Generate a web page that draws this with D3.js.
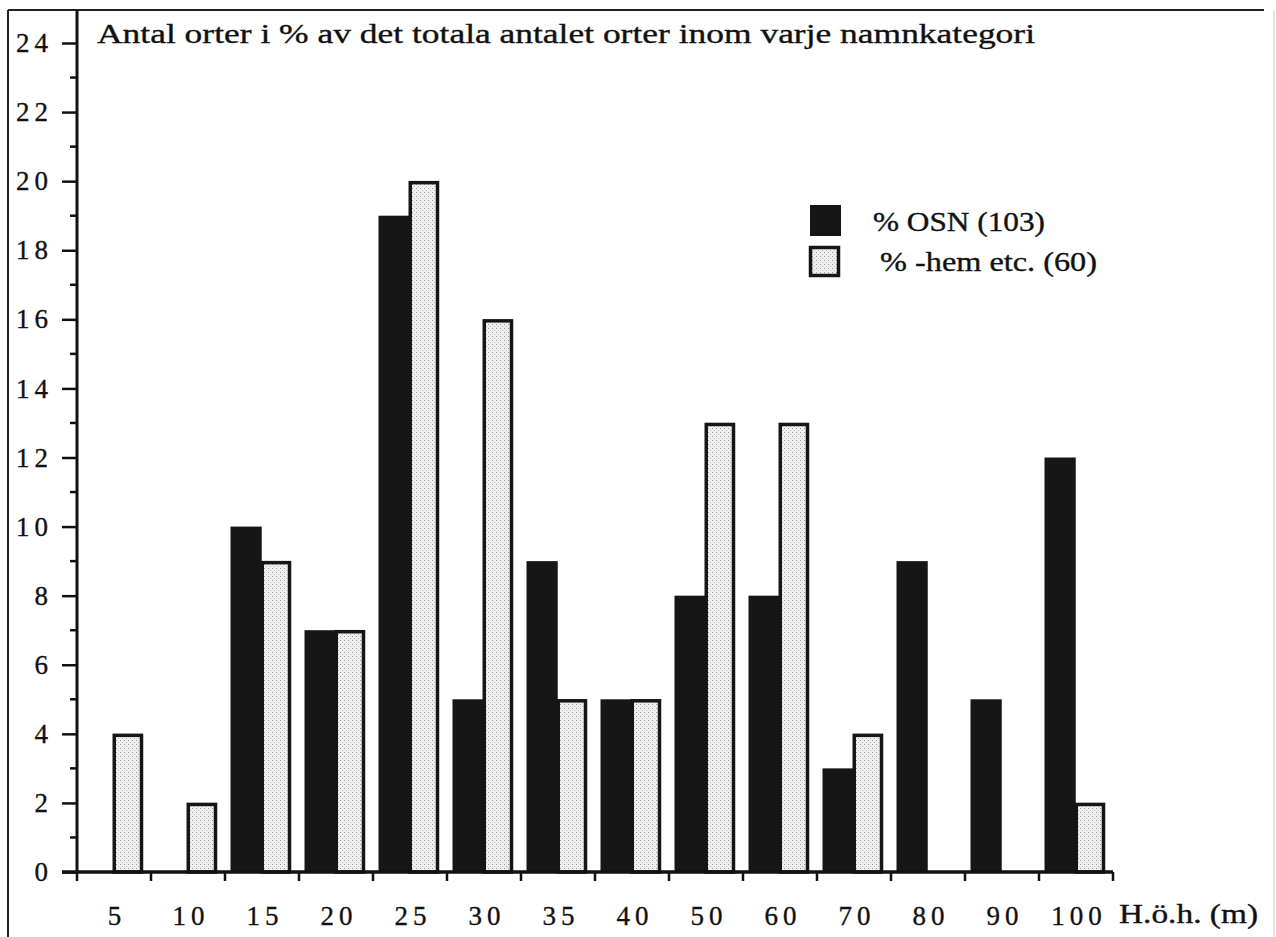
<!DOCTYPE html>
<html>
<head>
<meta charset="utf-8">
<script src="https://cdn.jsdelivr.net/npm/d3@7"></script>
<style>
  html, body { margin: 0; padding: 0; background: #fff; }
  svg { display: block; }
  text { font-family: "Liberation Serif", "DejaVu Serif", serif; fill: #111; stroke: #111; stroke-width: 0.35; }
</style>
</head>
<body>
<svg id="chart" width="1276" height="937"></svg>
<script>
// ---- data ----
const categories = ["5", "10", "15", "20", "25", "30", "35", "40", "50", "60", "70", "80", "90", "100"];
const osnValues  = [0, 0, 10, 7, 19, 5, 9, 5, 8, 8, 3, 9, 5, 12];
const hemValues  = [4, 2, 9, 7, 20, 16, 5, 5, 13, 13, 4, 0, 0, 2];
const seriesNames = ["% OSN (103)", "% -hem etc. (60)"];
const yTickValues = [0, 2, 4, 6, 8, 10, 12, 14, 16, 18, 20, 22, 24];
const titleText = "Antal orter i % av det totala antalet orter inom varje namnkategori";
const xAxisLabel = "H.ö.h. (m)";

const svg = d3.select("#chart");

// pattern for stippled gray bars
const defs = svg.append("defs");
const pat = defs.append("pattern").attr("id", "stipple")
  .attr("patternUnits", "userSpaceOnUse").attr("width", 4).attr("height", 4);
pat.append("rect").attr("width", 4).attr("height", 4).attr("fill", "#efefef");
pat.append("rect").attr("x", 0).attr("y", 0).attr("width", 1).attr("height", 1).attr("fill", "#999");
pat.append("rect").attr("x", 2).attr("y", 2).attr("width", 1).attr("height", 1).attr("fill", "#bbb");

// frame
svg.append("line").attr("x1", 8).attr("y1", 10).attr("x2", 8).attr("y2", 937)
  .attr("stroke", "#222").attr("stroke-width", 2);
svg.append("line").attr("x1", 8).attr("y1", 10).attr("x2", 1264).attr("y2", 10)
  .attr("stroke", "#222").attr("stroke-width", 2);
svg.append("line").attr("x1", 1274).attr("y1", 10).attr("x2", 1274).attr("y2", 937)
  .attr("stroke", "#ccc").attr("stroke-width", 1);

// scales
const x = d3.scaleBand().domain(categories).range([77, 1113]).paddingInner(0).paddingOuter(0);
const xSub = d3.scaleBand().domain(["osn", "hem"]).range([5.5, 66]);
const y = d3.scaleLinear().domain([0, 24]).range([872, 43]);

// y axis: major ticks
const yAxis = d3.axisLeft(y).tickValues(yTickValues).tickSize(15).tickPadding(14).tickFormat(d => d);
const gy = svg.append("g").attr("transform", "translate(77,0)").call(yAxis);
gy.select(".domain").attr("stroke", "#111").attr("stroke-width", 3).attr("d", `M0,10V${y(0)}`);
gy.selectAll(".tick line").attr("stroke", "#111").attr("stroke-width", 2.5);
gy.selectAll(".tick text").attr("font-size", 27).attr("letter-spacing", 5)
  .attr("font-family", "Liberation Serif").attr("fill", "#111").attr("dx", 5);
// minor ticks
const minorVals = d3.range(1, 24, 2);
svg.append("g").selectAll("line").data(minorVals).join("line")
  .attr("x1", 70).attr("x2", 77).attr("y1", d => y(d)).attr("y2", d => y(d))
  .attr("stroke", "#111").attr("stroke-width", 2.5);

// bars: OSN (black)
const bars = svg.append("g");
bars.selectAll("rect.osn").data(categories.map((c, i) => ({c, v: osnValues[i]})).filter(d => d.v > 0))
  .join("rect").attr("class", "osn")
  .attr("x", d => x(d.c) + xSub("osn"))
  .attr("width", xSub.bandwidth() + 1)
  .attr("y", d => y(d.v))
  .attr("height", d => y(0) - y(d.v))
  .attr("fill", "#161616");
// bars: hem (stippled gray, black border)
bars.selectAll("rect.hem").data(categories.map((c, i) => ({c, v: hemValues[i]})).filter(d => d.v > 0))
  .join("rect").attr("class", "hem")
  .attr("x", d => x(d.c) + xSub("hem") + 1.5)
  .attr("width", xSub.bandwidth() - 3)
  .attr("y", d => y(d.v) + 1.5)
  .attr("height", d => y(0) - y(d.v) - 1.5)
  .attr("fill", "url(#stipple)")
  .attr("stroke", "#161616").attr("stroke-width", 3.5);

// x axis
const boundaries = categories.map(c => x(c)).concat([x.range()[1]]);
svg.append("line").attr("x1", 62).attr("x2", 1113).attr("y1", y(0)).attr("y2", y(0))
  .attr("stroke", "#111").attr("stroke-width", 3.5);
svg.append("g").selectAll("line").data(boundaries).join("line")
  .attr("x1", d => d).attr("x2", d => d).attr("y1", y(0)).attr("y2", y(0) + 9)
  .attr("stroke", "#111").attr("stroke-width", 2.5);
svg.append("g").selectAll("text").data(categories).join("text")
  .attr("x", d => x(d) + x.bandwidth() / 2 + 3)
  .attr("y", 925)
  .attr("text-anchor", "middle")
  .attr("font-size", 27).attr("letter-spacing", 5)
  .text(d => d);
svg.append("text").attr("x", 1119).attr("y", 923).attr("font-size", 27)
  .attr("textLength", 139).attr("lengthAdjust", "spacingAndGlyphs").text(xAxisLabel);

// title
svg.append("text").attr("x", 97).attr("y", 43).attr("font-size", 28)
  .attr("textLength", 938).attr("lengthAdjust", "spacingAndGlyphs").text(titleText);

// legend
const legend = svg.append("g");
legend.append("rect").attr("x", 810).attr("y", 205).attr("width", 31).attr("height", 31).attr("fill", "#161616");
legend.append("rect").attr("x", 810.5).attr("y", 247.5).attr("width", 28).attr("height", 28)
  .attr("fill", "url(#stipple)").attr("stroke", "#161616").attr("stroke-width", 3.5);
legend.append("text").attr("x", 873).attr("y", 231).attr("font-size", 27)
  .attr("textLength", 172).attr("lengthAdjust", "spacingAndGlyphs").text(seriesNames[0]);
legend.append("text").attr("x", 880).attr("y", 271).attr("font-size", 27)
  .attr("textLength", 217).attr("lengthAdjust", "spacingAndGlyphs").text(seriesNames[1]);
</script>
</body>
</html>
